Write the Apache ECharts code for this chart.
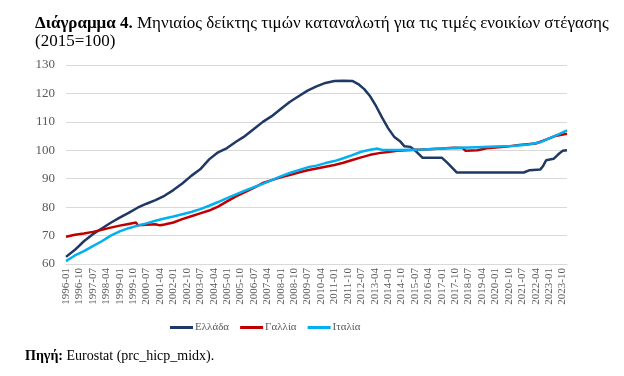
<!DOCTYPE html>
<html>
<head>
<meta charset="utf-8">
<script src="https://cdn.jsdelivr.net/npm/echarts@6/dist/echarts.min.js"></script>
<style>
  html, body { margin: 0; padding: 0; background: #fff; }
  #chart { width: 624px; height: 376px; }
</style>
</head>
<body>
<div id="chart"></div>
<script>
// Monthly categories 1996-01 .. 2024-01
const firstYear = 1996;
const lastMonth = '2024-01';
const months = [];
for (let y = firstYear; y <= 2024; y++) {
  for (let m = 1; m <= 12; m++) {
    const label = y + '-' + (m < 10 ? '0' + m : m);
    months.push(label);
    if (label === lastMonth) break;
  }
}

const seriesNames = ['Ελλάδα', 'Γαλλία', 'Ιταλία'];

// values, [month, index]
const greece = [
  ['1996-01', 62.5], ['1996-07', 65], ['1997-01', 68], ['1997-07', 70.5],
  ['1998-01', 72.5], ['1998-07', 74.5], ['1999-01', 76.3], ['1999-07', 78],
  ['2000-01', 79.8], ['2000-07', 81.2], ['2001-01', 82.5], ['2001-07', 84],
  ['2002-01', 86], ['2002-07', 88.3], ['2003-01', 91], ['2003-07', 93.3],
  ['2004-01', 96.8], ['2004-07', 99.3], ['2005-01', 100.8], ['2005-07', 103],
  ['2006-01', 105], ['2006-07', 107.5], ['2007-01', 110], ['2007-07', 112],
  ['2008-01', 114.5], ['2008-07', 117], ['2009-01', 119], ['2009-07', 121],
  ['2010-01', 122.5], ['2010-07', 123.7], ['2011-01', 124.4], ['2011-07', 124.5],
  ['2012-01', 124.4], ['2012-05', 123.3], ['2012-09', 121.5], ['2013-01', 119],
  ['2013-05', 115.5], ['2013-09', 111.5], ['2014-01', 107.8], ['2014-05', 104.8],
  ['2014-09', 103.2], ['2014-12', 101.4], ['2015-04', 101.2], ['2015-07', 100],
  ['2015-10', 98.5], ['2015-12', 97.4], ['2017-01', 97.4], ['2017-05', 95.5],
  ['2017-11', 92.2], ['2021-08', 92.2], ['2021-12', 93], ['2022-07', 93.2],
  ['2022-09', 94.5], ['2022-11', 96.5], ['2023-04', 97], ['2023-07', 98.5],
  ['2023-10', 99.8], ['2024-01', 100]
];

const france = [
  ['1996-01', 69.6], ['1996-07', 70.3], ['1997-01', 70.7], ['1997-07', 71.3],
  ['1998-01', 72], ['1998-07', 72.8], ['1999-01', 73.5], ['1999-07', 74.1],
  ['1999-12', 74.6], ['2000-01', 73.6], ['2000-07', 73.8], ['2001-01', 74],
  ['2001-04', 73.6], ['2001-07', 73.9], ['2002-01', 74.6], ['2002-07', 75.8],
  ['2003-01', 76.8], ['2003-07', 77.8], ['2004-01', 78.8], ['2004-07', 80.2],
  ['2005-01', 82], ['2005-07', 83.8], ['2006-01', 85.3], ['2006-07', 86.8],
  ['2007-01', 88.5], ['2007-07', 89.5], ['2008-01', 90.5], ['2008-07', 91.3],
  ['2009-01', 92.2], ['2009-07', 93], ['2010-01', 93.6], ['2010-07', 94.2],
  ['2011-01', 94.8], ['2011-07', 95.6], ['2012-01', 96.6], ['2012-07', 97.5],
  ['2013-01', 98.4], ['2013-07', 99], ['2014-01', 99.4], ['2014-07', 99.8],
  ['2015-01', 100], ['2016-01', 100.3], ['2017-01', 100.6], ['2017-09', 100.9],
  ['2018-03', 100.8], ['2018-05', 99.8], ['2019-01', 100], ['2019-07', 100.7],
  ['2020-07', 101.2], ['2021-05', 101.9], ['2022-04', 102.4], ['2022-10', 103.6],
  ['2023-05', 105], ['2024-01', 105.8]
];

const italy = [
  ['1996-01', 61], ['1996-04', 62], ['1996-07', 63], ['1997-01', 64.5],
  ['1997-07', 66.3], ['1998-01', 68], ['1998-07', 70], ['1999-01', 71.5],
  ['1999-07', 72.6], ['2000-01', 73.5], ['2000-07', 74.3], ['2001-01', 75.2],
  ['2001-07', 76], ['2002-01', 76.7], ['2002-07', 77.5], ['2003-01', 78.3],
  ['2003-07', 79.3], ['2004-01', 80.5], ['2004-07', 81.8], ['2005-01', 83.2],
  ['2005-07', 84.5], ['2006-01', 85.8], ['2006-07', 87], ['2007-01', 88.2],
  ['2007-07', 89.5], ['2008-01', 90.8], ['2008-07', 92], ['2009-01', 93],
  ['2009-07', 94], ['2010-01', 94.6], ['2010-07', 95.5], ['2011-01', 96.2],
  ['2011-07', 97.2], ['2012-01', 98.3], ['2012-07', 99.5], ['2013-01', 100.2],
  ['2013-06', 100.6], ['2013-09', 100.1], ['2014-09', 100.1], ['2016-01', 100.3],
  ['2017-01', 100.6], ['2018-01', 100.9], ['2019-01', 101.1], ['2020-01', 101.3],
  ['2021-01', 101.5], ['2021-11', 102], ['2022-07', 102.8], ['2023-01', 104.2],
  ['2023-08', 105.8], ['2024-01', 107]
];

const lineColors = ['#1F3864', '#C00000', '#00B0F0'];
const serif = '"Liberation Serif", "Times New Roman", serif';

const chart = echarts.init(document.getElementById('chart'));

const option = {
  animation: false,
  backgroundColor: '#fff',
  title: {
    left: 30,
    top: 10,
    text: '{b|Διάγραμμα 4.} Μηνιαίος δείκτης τιμών καταναλωτή για τις τιμές ενοικίων στέγασης\n(2015=100)',
    textStyle: {
      fontFamily: serif,
      fontSize: 17,
      fontWeight: 'normal',
      color: '#000',
      lineHeight: 18,
      rich: {
        b: { fontFamily: serif, fontSize: 17, fontWeight: 'bold', color: '#000', lineHeight: 18 }
      }
    }
  },
  graphic: [{
    type: 'text',
    left: 25,
    top: 349,
    style: {
      text: '{b|Πηγή:} Eurostat (prc_hicp_midx).',
      font: '14px ' + serif,
      fill: '#000',
      rich: {
        b: { fontFamily: serif, fontSize: 14, fontWeight: 'bold', fill: '#000' }
      }
    }
  }],
  legend: {
    top: 317,
    left: 165,
    itemGap: 11,
    itemWidth: 23,
    itemHeight: 3,
    icon: 'rect',
    textStyle: { fontFamily: serif, fontSize: 11, color: '#595959', padding: [0, 0, 0, -3] },
    data: seriesNames
  },
  grid: { left: 66, right: 57, top: 65, bottom: 112 },
  xAxis: {
    type: 'category',
    data: months,
    boundaryGap: false,
    axisLine: { lineStyle: { color: '#d9d9d9' } },
    axisTick: { show: false },
    axisLabel: {
      interval: 8,
      rotate: 90,
      margin: 4,
      fontFamily: serif,
      fontSize: 11,
      color: '#595959'
    }
  },
  yAxis: {
    type: 'value',
    min: 60,
    max: 130,
    interval: 10,
    axisLine: { show: false },
    axisTick: { show: false },
    axisLabel: { fontFamily: serif, fontSize: 13, color: '#595959', margin: 11 },
    splitLine: { lineStyle: { color: '#d9d9d9' } }
  },
  series: [greece, france, italy].map((d, i) => ({
    name: seriesNames[i],
    type: 'line',
    data: d,
    showSymbol: false,
    symbol: 'none',
    lineStyle: { color: lineColors[i], width: 2.5 },
    itemStyle: { color: lineColors[i] }
  }))
};

chart.setOption(option);
</script>
</body>
</html>
